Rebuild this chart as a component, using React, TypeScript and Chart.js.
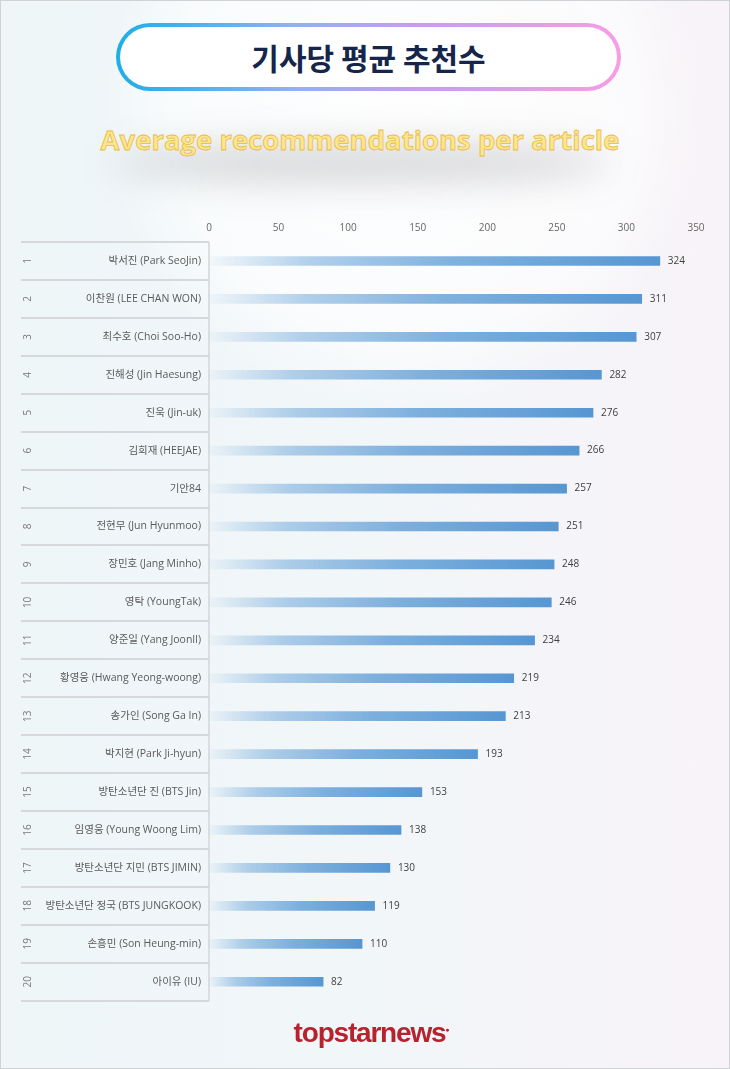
import React, { useEffect, useRef } from "react";
import { Chart, registerables } from "chart.js";

Chart.register(...registerables);

const names = [
  "박서진 (Park SeoJin)",
  "이찬원 (LEE CHAN WON)",
  "최수호 (Choi Soo-Ho)",
  "진해성 (Jin Haesung)",
  "진욱 (Jin-uk)",
  "김희재 (HEEJAE)",
  "기안84",
  "전현무 (Jun Hyunmoo)",
  "장민호 (Jang Minho)",
  "영탁 (YoungTak)",
  "양준일 (Yang JoonIl)",
  "황영웅 (Hwang Yeong-woong)",
  "송가인 (Song Ga In)",
  "박지현 (Park Ji-hyun)",
  "방탄소년단 진 (BTS Jin)",
  "임영웅 (Young Woong Lim)",
  "방탄소년단 지민 (BTS JIMIN)",
  "방탄소년단 정국 (BTS JUNGKOOK)",
  "손흥민 (Son Heung-min)",
  "아이유 (IU)",
];
const ranks = ["1", "2", "3", "4", "5", "6", "7", "8", "9", "10", "11", "12", "13", "14", "15", "16", "17", "18", "19", "20"];
const values = [324, 311, 307, 282, 276, 266, 257, 251, 248, 246, 234, 219, 213, 193, 153, 138, 130, 119, 110, 82];
const xTicks = [0, 50, 100, 150, 200, 250, 300, 350];

const FONT = "'Open Sans','Noto Sans CJK KR',sans-serif";

const tablePlugin = {
  id: "tablePlugin",
  beforeDatasetsDraw(chart: any) {
    const { ctx, scales, chartArea } = chart;
    const ys = scales.y;
    const n = names.length;
    const left = 20;
    const right = chartArea.left;
    const step = ys.getPixelForValue(1) - ys.getPixelForValue(0);
    ctx.save();
    ctx.strokeStyle = "#d6d9dc";
    ctx.lineWidth = 2;
    for (let i = 0; i <= n; i++) {
      const y = ys.getPixelForValue(0) - step / 2 + i * step;
      ctx.beginPath();
      ctx.moveTo(left, Math.round(y));
      ctx.lineTo(right, Math.round(y));
      ctx.stroke();
    }
    ctx.lineWidth = 1.5;
    ctx.strokeStyle = "#d3d6d9";
    ctx.beginPath();
    ctx.moveTo(right, chartArea.top);
    ctx.lineTo(right, chartArea.bottom);
    ctx.stroke();
    ctx.fillStyle = "#7a7a7a";
    ctx.font = `10px ${FONT}`;
    ctx.textAlign = "center";
    ctx.textBaseline = "middle";
    ranks.forEach((r, i) => {
      const y = ys.getPixelForValue(i);
      ctx.save();
      ctx.translate(27, y);
      ctx.rotate(-Math.PI / 2);
      ctx.fillText(r, 0, 0);
      ctx.restore();
    });
    ctx.restore();
  },
  afterDatasetsDraw(chart: any) {
    const { ctx } = chart;
    const meta = chart.getDatasetMeta(0);
    ctx.save();
    ctx.fillStyle = "#404040";
    ctx.font = `10px ${FONT}`;
    ctx.textAlign = "left";
    ctx.textBaseline = "middle";
    meta.data.forEach((bar: any, i: number) => {
      ctx.fillText(String(values[i]), bar.x + 8, bar.y);
    });
    ctx.restore();
  },
};

function BarChart() {
  const ref = useRef<HTMLCanvasElement>(null);
  useEffect(() => {
    if (!ref.current) return;
    const chart = new Chart(ref.current, {
      type: "bar",
      data: {
        labels: names,
        datasets: [
          {
            data: values,
            barThickness: 9,
            borderWidth: 0,
            backgroundColor: (c: any) => {
              const ch = c.chart;
              const xs = ch.scales && ch.scales.x;
              if (!xs || c.type !== "data") return "#5b9bd5";
              const x0 = xs.getPixelForValue(0);
              const x1 = xs.getPixelForValue(c.raw);
              if (!isFinite(x0) || !isFinite(x1) || x1 <= x0) return "#5b9bd5";
              const g = ch.ctx.createLinearGradient(x0, 0, x1, 0);
              g.addColorStop(0, "rgba(91,155,213,0.03)");
              g.addColorStop(0.22, "rgba(91,155,213,0.45)");
              g.addColorStop(0.55, "rgba(91,155,213,0.78)");
              g.addColorStop(1, "rgba(86,150,210,1)");
              return g;
            },
          },
        ],
      },
      options: {
        indexAxis: "y",
        animation: false,
        responsive: false,
        maintainAspectRatio: false,
        layout: { padding: { top: 0, right: 35, bottom: 1, left: 0 } },
        plugins: { legend: { display: false }, tooltip: { enabled: false } },
        scales: {
          x: {
            position: "top",
            min: 0,
            max: 350,
            afterBuildTicks: (s: any) => {
              s.ticks = xTicks.map((v) => ({ value: v }));
            },
            afterFit: (s: any) => {
              s.height = 41;
            },
            grid: { display: false, drawTicks: false },
            border: { display: false },
            ticks: { color: "#666", font: { size: 10, family: FONT }, padding: 8, maxRotation: 0 },
          },
          y: {
            afterFit: (s: any) => {
              s.width = 208;
            },
            grid: { display: false, drawTicks: false },
            border: { display: false },
            ticks: { color: "#5a5a5a", font: { size: 10.5, family: FONT }, padding: 8, autoSkip: false },
          },
        },
      },
      plugins: [tablePlugin],
    } as any);
    return () => chart.destroy();
  }, []);
  return <canvas ref={ref} width={730} height={814} style={{ position: "absolute", left: 0, top: 200, width: 730, height: 814 }} />;
}

export default function App() {
  return (
    <div
      style={{
        position: "absolute",
        left: 0,
        top: 0,
        width: 730,
        height: 1069,
        overflow: "hidden",
        boxSizing: "border-box",
        border: "1px solid #cfd3d6",
        background:
          "radial-gradient(circle at 400px 110px, rgba(255,255,255,0.95) 0px, rgba(255,255,255,0.6) 230px, rgba(255,255,255,0) 300px), linear-gradient(90deg, #eef6f8 0%, #f2f6f9 55%, #f8f3f8 100%)",
        fontFamily: FONT,
      }}
    >
      <div
        style={{
          position: "absolute",
          left: 115,
          top: 22,
          width: 505,
          height: 68,
          boxSizing: "border-box",
          borderRadius: 34,
          border: "4px solid transparent",
          background:
            "linear-gradient(#fff,#fff) padding-box, linear-gradient(90deg,#1eaee6 0%,#8fb2ef 35%,#c99cef 60%,#f69de6 100%) border-box",
          display: "flex",
          alignItems: "center",
          justifyContent: "center",
        }}
      >
        <span style={{ fontFamily: "'Noto Sans CJK KR',sans-serif", fontWeight: 700, fontSize: 30, color: "#16264a", letterSpacing: 0 }}>
          기사당 평균 추천수
        </span>
      </div>
      <div
        style={{
          position: "absolute",
          left: 110,
          top: 142,
          width: 500,
          height: 40,
          borderRadius: "50%",
          background: "rgba(80,80,90,0.22)",
          filter: "blur(18px)",
        }}
      />
      <div
        style={{
          position: "absolute",
          left: 0,
          top: 118,
          width: 718,
          textAlign: "center",
          fontFamily: "'Open Sans',sans-serif",
          fontWeight: 700,
          fontSize: 27.5,
          lineHeight: "42px",
          color: "#fde68f",
          WebkitTextStroke: "0.8px #e9bc45",
          letterSpacing: 0,
        }}
      >
        Average recommendations per article
      </div>
      <BarChart />
      <div
        style={{
          position: "absolute",
          left: 0,
          top: 1011,
          width: 740,
          textAlign: "center",
          fontFamily: "'Liberation Sans',Arial,sans-serif",
          fontWeight: 700,
          fontSize: 28,
          letterSpacing: -1.2,
          color: "#b8222e",
          lineHeight: "36px",
        }}
      >
        topstarnews<span style={{ fontSize: 7, verticalAlign: "super", color: "#b8222e" }}>●</span>
      </div>
    </div>
  );
}
